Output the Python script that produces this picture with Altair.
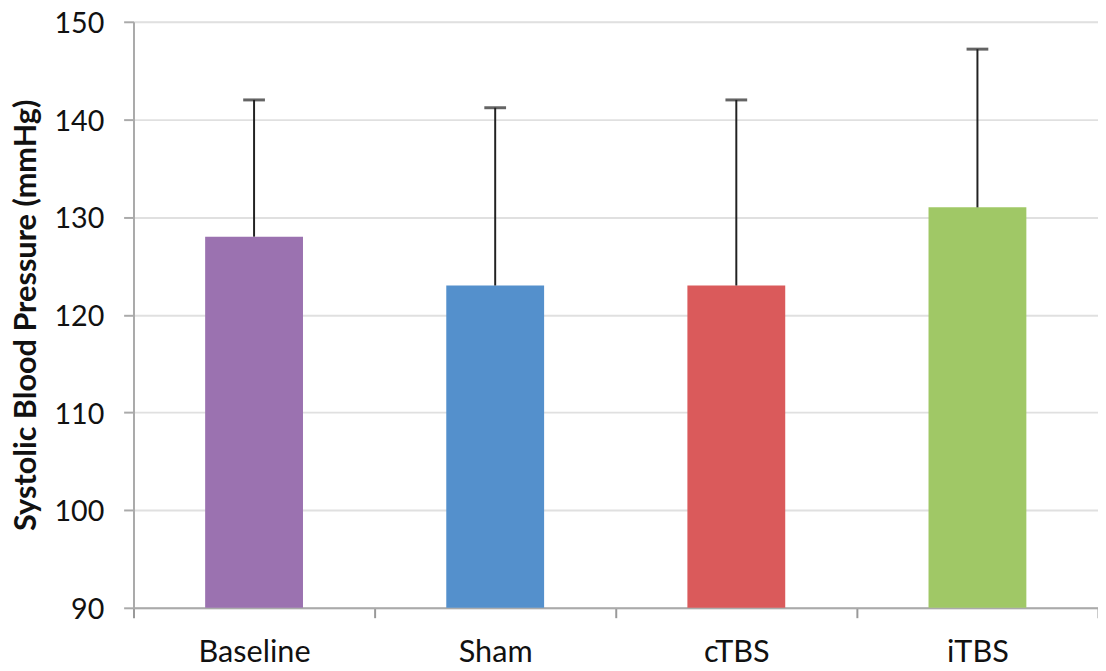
import altair as alt
import pandas as pd

categories = ["Baseline", "Sham", "cTBS", "iTBS"]
means = [128, 123, 123, 131]
upper = [142, 141.2, 142, 147.2]
colors = ["#9B72B0", "#5490CC", "#DA5A5B", "#A0C866"]

df = pd.DataFrame({"cat": categories, "mean": means, "upper": upper})

FONT = "Lato"

x = alt.X("cat:N", sort=categories, title=None,
          scale=alt.Scale(paddingInner=0, paddingOuter=0),
          axis=alt.Axis(tickBand="extent", labelAngle=0, labelFontSize=31,
                        labelFont=FONT, labelColor="#111", labelPadding=20,
                        tickSize=10, tickColor="#999", tickWidth=2,
                        domainColor="#aaa", domainWidth=2))

bars = alt.Chart(df).mark_bar(size=99, clip=True).encode(
    x=x,
    y=alt.Y("mean:Q", title="Systolic Blood Pressure (mmHg)",
            scale=alt.Scale(domain=[90, 150], nice=False, zero=False),
            axis=alt.Axis(values=[90, 100, 110, 120, 130, 140, 150],
                          labelFontSize=29, labelFont=FONT, labelColor="#111",
                          labelPadding=20, labelOffset=2, tickSize=10, tickColor="#aaa",
                          tickWidth=2, domainColor="#aaa", domainWidth=2,
                          gridColor="#e0e0e0", gridWidth=2,
                          titleFont=FONT, titleFontSize=31, titleFontWeight="bold",
                          titleColor="#111", titlePadding=12)),
    color=alt.Color("cat:N", scale=alt.Scale(domain=categories, range=colors), legend=None),
)

rules = alt.Chart(df).mark_rule(color="#222", strokeWidth=2).encode(
    x=alt.X("cat:N", sort=categories), y="mean:Q", y2="upper:Q")

caps = alt.Chart(df).mark_tick(color="#222", size=22, thickness=3).encode(
    x=alt.X("cat:N", sort=categories), y="upper:Q")

chart = alt.layer(bars, rules, caps).properties(
    width=976, height=593,
    autosize=alt.AutoSizeParams(type="none"),
    padding={"left": 127, "top": 10, "right": 0, "bottom": 60},
).configure_view(stroke=None).configure(background="white")

chart.save("out.html", embed_options={"renderer": "svg", "actions": False})
